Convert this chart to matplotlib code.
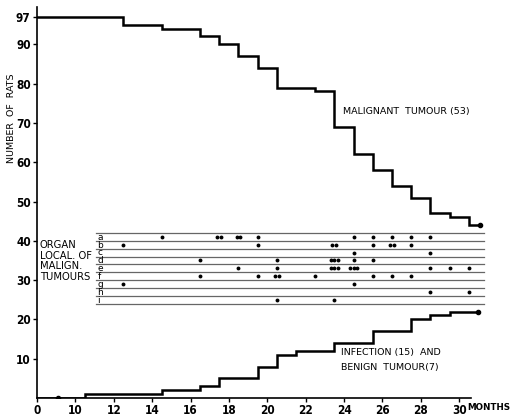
import numpy as np
import matplotlib
matplotlib.use('Agg')
import matplotlib.pyplot as plt
from collections import Counter

# ---------------- data ----------------
mal_months = [0, 12.5, 14.5, 16.5, 17.5, 18.5, 19.5, 20.5, 22.5, 23.5, 24.5,
              25.5, 26.5, 27.5, 28.5, 29.5, 30.5, 31.1]
mal_rats = [97, 95, 94, 92, 90, 87, 84, 79, 78, 69, 62, 58, 54, 51, 47, 46, 44, 44]

inf_months = [0, 10.5, 14.5, 16.5, 17.5, 19.5, 20.5, 21.5, 23.5, 25.5, 27.5,
              28.5, 29.5, 31.0]
inf_rats = [0, 1, 2, 3, 5, 8, 11, 12, 14, 17, 20, 21, 22, 22]
inf_first_mark = 5.5  # marker at the start of the lower curve (inside axis break)

organ_rows = ['a', 'b', 'c', 'd', 'e', 'f', 'g', 'h', 'i']
organ_a = [14.5, 17.5, 17.5, 18.5, 18.5, 19.5, 24.5, 25.5, 26.5, 27.5, 28.5]
organ_b = [12.5, 19.5, 23.5, 23.5, 25.5, 26.5, 26.5, 27.5]
organ_c = [24.5, 28.5]
organ_d = [16.5, 20.5, 23.5, 23.5, 23.5, 24.5, 25.5]
organ_e = [18.5, 20.5, 23.5, 23.5, 23.5, 24.5, 24.5, 24.5, 28.5, 29.5, 30.5]
organ_f = [16.5, 19.5, 20.5, 20.5, 22.5, 25.5, 26.5, 27.5]
organ_g = [12.5, 24.5]
organ_h = [28.5, 30.5]
organ_i = [20.5, 23.5]
organ_events = [organ_a, organ_b, organ_c, organ_d, organ_e, organ_f,
                organ_g, organ_h, organ_i]

x_ticks = [0, 10, 12, 14, 16, 18, 20, 22, 24, 26, 28, 30]
y_ticks = [10, 20, 30, 40, 50, 60, 70, 80, 90, 97]

# ---------------- figure ----------------
W, H = 514, 416
fig = plt.figure(figsize=(W / 100, H / 100), dpi=100)
ax = fig.add_axes([37 / W, 1 - 398 / H, (486 - 37) / W, (398 - 7) / H])


def fwd(m):
    m = np.asarray(m, dtype=float)
    return np.where(m < 10, m / 10.0, (m - 8) / 2.0)


def inv(p):
    p = np.asarray(p, dtype=float)
    return np.where(p < 1, p * 10.0, 2 * p + 8)


ax.set_xscale('function', functions=(fwd, inv))
ax.set_xlim(0, 31.4)
ax.set_ylim(0, 99.5)

lw_curve = 1.8
ax.step(mal_months, mal_rats, where='post', color='black', lw=lw_curve,
        solid_joinstyle='miter')
ax.plot([mal_months[-1]], [mal_rats[-1]], 'o', color='black', ms=3)
ax.step(inf_months, inf_rats, where='post', color='black', lw=lw_curve,
        solid_joinstyle='miter')
ax.plot([inf_months[-1]], [inf_rats[-1]], 'o', color='black', ms=3)
ax.plot([inf_first_mark], [0], 'o', color='black', ms=3)

# organ localisation strip
top_line = 42
step = 2
line_start, line_end = 11.1, 31.3
for k in range(len(organ_rows) + 1):
    y = top_line - k * step
    ax.plot([line_start, line_end], [y, y], color='#666666', lw=0.9)

for k, (lab, ev) in enumerate(zip(organ_rows, organ_events)):
    yc = top_line - k * step - step / 2
    ax.text(line_start + 0.05, yc - 0.1, lab, fontsize=6.5, ha='left',
            va='center', family='DejaVu Sans')
    for m, n in Counter(ev).items():
        offs = (np.arange(n) - (n - 1) / 2) * 0.2
        xs = [m + o for o in offs]
        ax.plot(xs, [yc] * n, 'o', color='black', ms=2.8, mec='none')

# axes styling
for s in ['top', 'right']:
    ax.spines[s].set_visible(False)
ax.spines['left'].set_linewidth(1.2)
ax.spines['bottom'].set_linewidth(1.2)
ax.spines['bottom'].set_bounds(0, 30.6)

tickfont = dict(family='DejaVu Sans', stretch='condensed',
                weight='bold', size=8.5)
ax.set_xticks(x_ticks)
ax.set_xticklabels([str(t) for t in x_ticks], **tickfont)
ax.set_yticks(y_ticks)
ax.set_yticklabels([str(t) for t in y_ticks], **tickfont)
ax.tick_params(axis='both', direction='out', length=3, width=1, pad=1.5)
ax.minorticks_off()

txt = dict(family='DejaVu Sans', fontsize=6.8, color='black')
fig.text(12 / W, 1 - 118 / H, 'NUMBER  OF  RATS', rotation=90,
         ha='center', va='center', **txt)
ax.text(23.95, 73, 'MALIGNANT  TUMOUR (53)', ha='left', va='center', **txt)
ax.text(23.85, 9.7, 'INFECTION (15)  AND\nBENIGN  TUMOUR(7)', ha='left',
        va='center', linespacing=1.75, **txt)
fig.text(40 / W, 1 - 261 / H, 'ORGAN\nLOCAL. OF\nMALIGN.\nTUMOURS',
         ha='left', va='center', linespacing=1.05, family='DejaVu Sans',
         fontsize=7.2)
fig.text(467 / W, 1 - 407 / H, 'MONTHS', ha='left', va='center',
         family='DejaVu Sans', fontsize=6.3, weight='bold')

fig.savefig('out.png', dpi=100)
